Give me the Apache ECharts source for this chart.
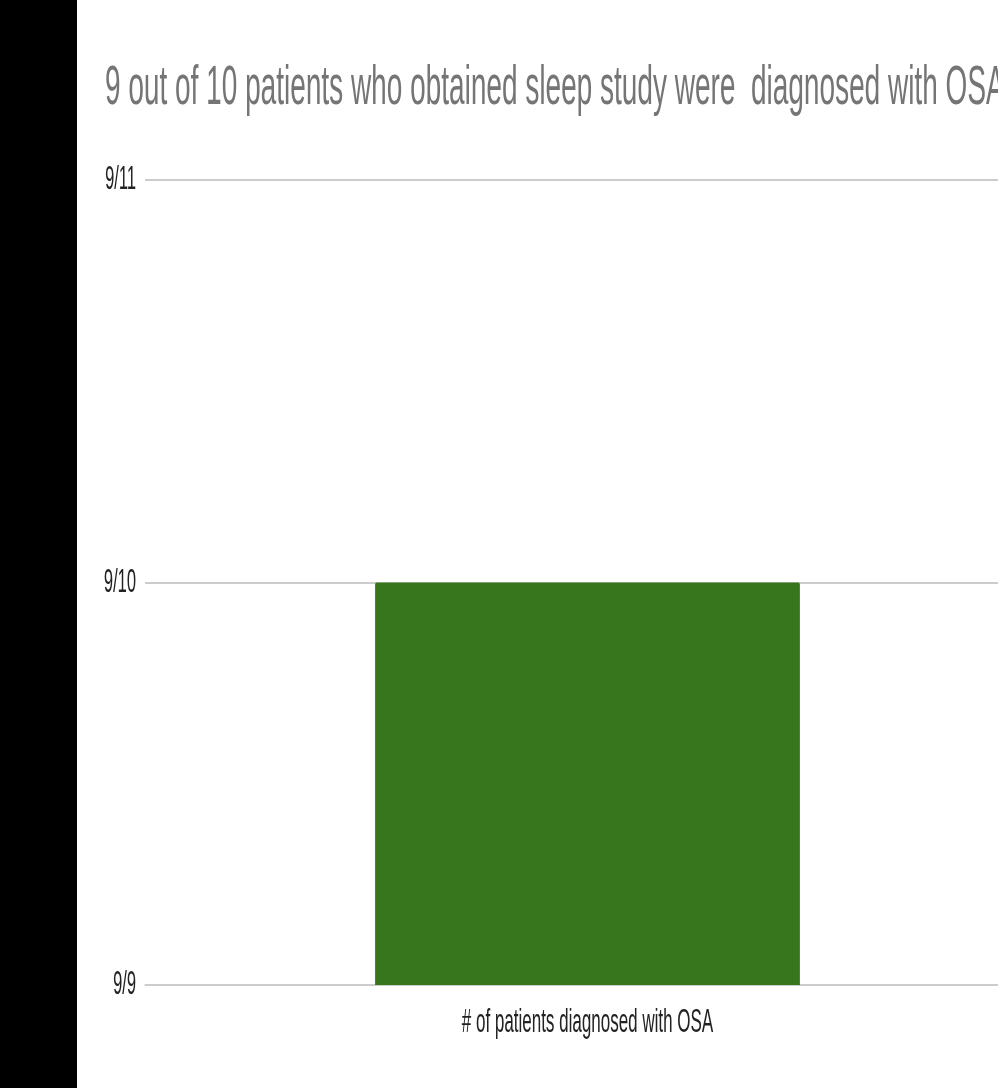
<!DOCTYPE html>
<html>
<head>
<meta charset="utf-8">
<script src="https://cdn.jsdelivr.net/npm/echarts@6/dist/echarts.min.js"></script>
<style>
  html, body { margin: 0; padding: 0; width: 998px; height: 1088px; overflow: hidden; background: #000; }
  #wrap { position: absolute; left: 77px; top: 0; width: 921px; height: 1088px; overflow: hidden; background: #fff; }
  #chart { position: absolute; left: 0; top: 0; width: 2000px; height: 1088px; transform: scaleX(0.5); transform-origin: 0 0; }
</style>
</head>
<body>
<div id="wrap"><div id="chart"></div></div>
<script>
const titleText = '9 out of 10 patients who obtained sleep study were  diagnosed with OSA';
const categories = ['# of patients diagnosed with OSA'];
const values = [10];               // day of month on the date axis (9/10)
const tickValues = [9, 10, 11];
const tickLabels = ['9/9', '9/10', '9/11'];

const chart = echarts.init(document.getElementById('chart'), null, { renderer: 'canvas' });
chart.setOption({
  animation: false,
  backgroundColor: '#ffffff',
  title: {
    text: titleText,
    left: 51,
    top: 56,
    textStyle: { fontFamily: 'Liberation Sans', fontSize: 56, fontWeight: 'normal', color: '#757575' }
  },
  grid: { left: 136, right: 94, top: 180, bottom: 103, containLabel: false },
  xAxis: {
    type: 'category',
    data: categories,
    axisLine: { show: true, lineStyle: { color: '#cccccc', width: 2 } },
    axisTick: { show: false },
    axisLabel: { margin: 21, fontFamily: 'Liberation Sans', fontSize: 34, color: '#222222' }
  },
  yAxis: {
    type: 'value',
    min: tickValues[0],
    max: tickValues[tickValues.length - 1],
    interval: 1,
    axisLine: { show: false },
    axisTick: { show: false },
    splitLine: { lineStyle: { color: '#cccccc', width: 2 } },
    axisLabel: {
      margin: 18,
      fontFamily: 'Liberation Sans', fontSize: 33, color: '#222222',
      formatter: v => tickLabels[tickValues.indexOf(v)] ?? ''
    }
  },
  series: [{
    type: 'bar',
    data: values,
    barWidth: '48%',
    itemStyle: { color: '#38761d', borderRadius: [3, 3, 0, 0] }
  }]
});
</script>
</body>
</html>
